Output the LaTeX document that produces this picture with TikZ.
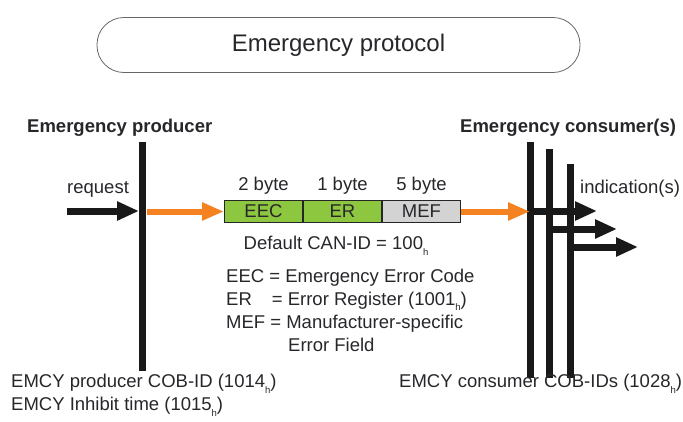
\documentclass[tikz,border=0pt]{standalone}
\usepackage{fontspec}
\setmainfont{Liberation Sans}
\usetikzlibrary{arrows.meta,positioning}

\definecolor{emcyorange}{RGB}{245,130,32}
\definecolor{emcygreen}{RGB}{141,198,63}
\definecolor{emcygray}{RGB}{211,211,211}
\definecolor{emcytext}{RGB}{40,38,42}
\newcommand{\hsub}{\raisebox{-.6ex}{\fontsize{9.5}{9.5}\selectfont h}}

\begin{document}
\begin{tikzpicture}[x=1pt,y=-1pt,node distance=0pt,
  txt/.style={font=\fontsize{18.5}{23}\selectfont,text=emcytext,inner sep=0pt},
  head/.style={font=\fontsize{18.5}{23}\selectfont\bfseries,text=emcytext,inner sep=0pt},
  field/.style={draw=black!85,line width=1pt,minimum width=78pt,minimum height=22.5pt,inner sep=0pt,
    font=\fontsize{18.5}{23}\selectfont,text=emcytext},
  bus/.style={line width=7pt,black!90},
  blackarrow/.style={line width=7pt,black!90,-{Triangle[length=22pt,width=18pt]}},
  orangearrow/.style={line width=6pt,emcyorange,-{Triangle[length=22pt,width=17pt]}}]
\useasboundingbox (0,0) rectangle (683,421);

% title
\node[draw=black!60,line width=.8pt,rounded corners=27pt,minimum width=483pt,minimum height=55pt,
  font=\fontsize{24}{28}\selectfont,text=emcytext] (title) at (338.5,45) {Emergency protocol};

% producer
\node[head,anchor=west] (prodlbl) at (27,128) {Emergency producer};
\coordinate (ptop) at (142,142);
\coordinate (pbot) at (142,371);
\draw[bus] (ptop) -- (pbot);
\node[txt,anchor=west] (request) at (67,189) {request};
\coordinate (reqstart) at (67,211);
\coordinate (reqend) at (139,211);
\draw[blackarrow] (reqstart) -- (reqend);

% the frame
\node[field,fill=emcygreen] (eec) at (263.5,211.5) {EEC};
\node[field,fill=emcygreen,right=of eec] (er) {ER};
\node[field,fill=emcygray,right=of er] (mef) {MEF};
\node[txt,above=5pt of eec] {2 byte};
\node[txt,above=5pt of er] {1 byte};
\node[txt,above=5pt of mef] {5 byte};
\draw[orangearrow] ([xshift=5pt]ptop |- eec.west) -- (eec.west);

\node[txt] (canid) at (336,246) {Default CAN-ID = 100\hsub};
\node[txt,anchor=west,align=left] (legend) at (226,310)
  {EEC = Emergency Error Code\\
   ER\hspace{20pt}= Error Register (1001\hsub)\\
   MEF = Manufacturer-specific\\
   \hspace{62pt}Error Field};

% consumers
\node[head,anchor=west] (conslbl) at (460,128) {Emergency consumer(s)};
\coordinate (c1) at (530,142);
\coordinate (c2) at (549,149);
\coordinate (c3) at (570,164);
\foreach \c in {c1,c2,c3}
  \draw[bus] (\c) -- (\c |- 0,378);
\draw[orangearrow] (mef.east) -- (c1 |- mef.east);
\draw[blackarrow] (c1 |- 0,211) -- (597,211);
\draw[blackarrow] (c2 |- 0,229) -- (617,229);
\draw[blackarrow] (c3 |- 0,247) -- (638,247);
\node[txt,anchor=west] (indic) at (580,189) {indication(s)};

% object dictionary entries
\node[txt,anchor=west] (prodcob) at (11,384) {EMCY producer COB-ID (1014\hsub)};
\node[txt,anchor=west] (inhibit) at (11,407) {EMCY Inhibit time (1015\hsub)};
\node[txt,anchor=west] (conscob) at (399,384) {EMCY consumer COB-IDs (1028\hsub)};
\end{tikzpicture}
\end{document}
